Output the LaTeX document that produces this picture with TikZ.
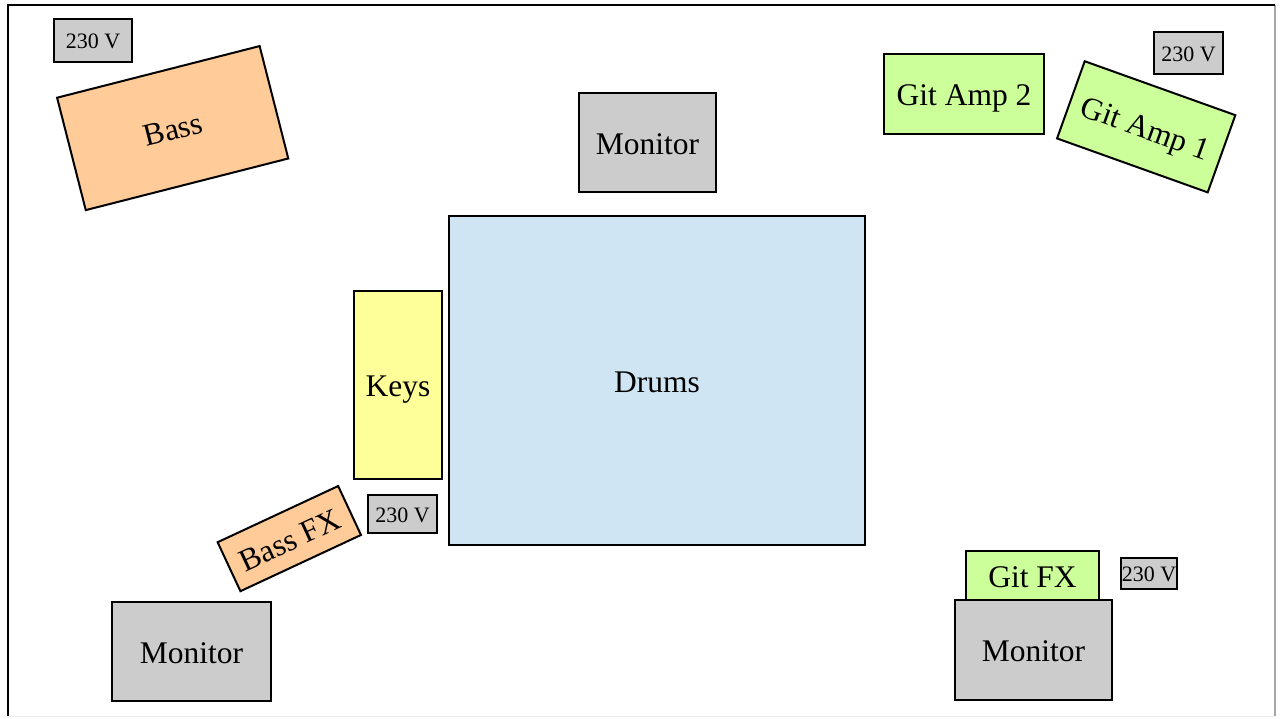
\documentclass[tikz,border=0pt]{standalone}
\usepackage{fontspec}
\setmainfont{Liberation Serif}
\definecolor{peach}{HTML}{FFCC99}
\definecolor{lgreen}{HTML}{CCFF99}
\definecolor{lyellow}{HTML}{FFFF99}
\definecolor{lblue}{HTML}{D0E5F3}
\definecolor{lgray}{HTML}{CCCCCC}
\tikzset{
  box/.style={draw=black, line width=2pt, inner sep=0pt, align=center,
    text height=23.5pt, text depth=0pt,
    font=\fontsize{31.5}{36}\selectfont},
  plug/.style={box, fill=lgray, text height=16.2pt, font=\fontsize{22}{26}\selectfont},
  monitorbox/.style={box, fill=lgray},
  bassbox/.style={box, fill=peach},
  gitbox/.style={box, fill=lgreen},
}
\begin{document}
\begin{tikzpicture}[x=1pt,y=-1pt]
\useasboundingbox (0,0) rectangle (1285,718);
% frame
\draw[line width=1.5pt, gray!70] (1275,5) -- (1275,716);
\draw[line width=1pt, gray!15] (1275,716) -- (8,716);
\draw[line width=2pt, black] (1275,5) -- (8,5) -- (8,716);
% nodes
\node[plug, minimum width=78pt, minimum height=43pt] (p1) at (93,40) {230 V};
\node[bassbox, minimum width=209pt, minimum height=116pt, rotate=14.3] (bass) at (172.7,128.1) {Bass};
\node[monitorbox, minimum width=137pt, minimum height=99pt] (mon1) at (647.5,142.5) {Monitor};
\node[gitbox, minimum width=160pt, minimum height=80pt] (amp2) at (964,94) {Git Amp 2};
\node[gitbox, minimum width=160pt, minimum height=82pt, rotate=-19.7] (amp1) at (1146.2,126.8) {Git Amp 1};
\node[plug, minimum width=69pt, minimum height=42pt] (p2) at (1188.5,53) {230 V};
\node[box, fill=lblue, minimum width=416pt, minimum height=329pt] (drums) at (657,380.5) {Drums};
\node[box, fill=lyellow, minimum width=88pt, minimum height=188pt] (keys) at (398,385) {Keys};
\node[bassbox, minimum width=133pt, minimum height=54pt, rotate=25] (bassfx) at (289.3,538.6) {Bass FX};
\node[plug, minimum width=69pt, minimum height=38pt] (p3) at (402.5,514) {230 V};
\node[monitorbox, minimum width=159pt, minimum height=99pt] (mon2) at (191.5,651.5) {Monitor};
\node[gitbox, minimum width=133pt, minimum height=50pt] (gitfx) at (1032.5,576) {Git FX};
\node[monitorbox, minimum width=157pt, minimum height=100pt] (mon3) at (1033.5,650) {Monitor};
\node[plug, minimum width=56pt, minimum height=31pt] (p4) at (1149,573.7) {230 V};
\end{tikzpicture}
\end{document}
